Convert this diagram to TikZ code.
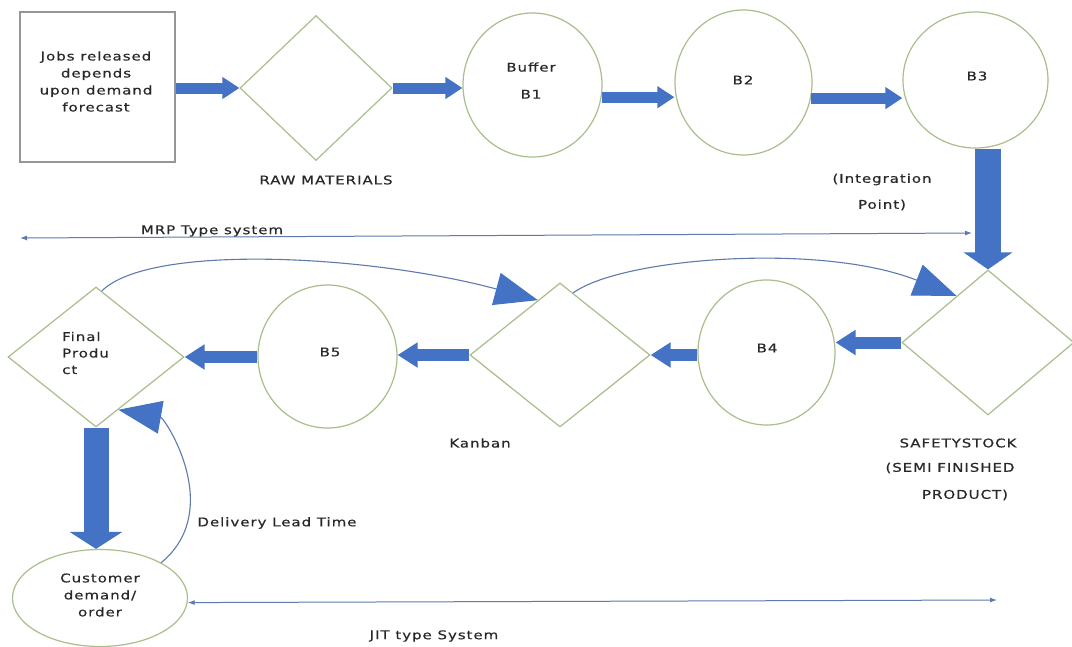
\documentclass[tikz,border=0pt]{standalone}
\usepackage{fontspec}
\newfontfamily\dfont{DejaVu Sans}[LetterSpace=8,FakeStretch=1.25,FakeBold=0.5]
\usetikzlibrary{shapes.geometric,arrows.meta}
\definecolor{bluef}{RGB}{68,114,196}
\definecolor{shapeline}{RGB}{170,190,140}
\definecolor{rectline}{RGB}{150,150,150}
\definecolor{thinline}{RGB}{95,122,172}
\definecolor{textgray}{RGB}{40,40,40}
\begin{document}
\begin{tikzpicture}[x=1pt,y=-1pt,
  txt/.style={font=\dfont\fontsize{12}{17}\selectfont, text=textgray, inner sep=0pt},
  rbox/.style={draw=rectline, line width=1.1pt, rectangle, inner sep=0pt},
  dia/.style={draw=shapeline, line width=1.2pt, diamond, inner sep=0pt},
  ell/.style={draw=shapeline, line width=1.2pt, ellipse, inner sep=0pt},
  blkA/.style={draw=bluef, line width=11pt, -{Triangle[length=17pt,width=21pt]}},
  blkB/.style={draw=bluef, line width=26pt, -{Triangle[length=17pt,width=48pt]}},
  blkC/.style={draw=bluef, line width=12pt, -{Triangle[length=20pt,width=24pt]}},
  blkD/.style={draw=bluef, line width=25pt, -{Triangle[length=17pt,width=52pt]}},
  crv/.style={draw=thinline, line width=1.1pt, -{Triangle[length=43pt,width=33pt,color=bluef]}},
  thinarr/.style={draw=thinline, line width=1pt, {Latex[length=7pt,width=5pt]}-{Latex[length=7pt,width=5pt]}}
]
\fill[white] (0,0) rectangle (1072,646);
\useasboundingbox (0,0) rectangle (1072,646);

% top row
\node[rbox, minimum width=155pt, minimum height=150pt] (jobs) at (97.5,87) {};
\node[txt, align=center] (jobsT) at (96,81.5) {Jobs released\\depends\\upon demand\\forecast};
\node[dia, minimum width=152pt, minimum height=145pt] (raw) at (316,88) {};
\node[txt] (rawT) at (326,180) {RAW MATERIALS};
\node[ell, minimum width=139pt, minimum height=144pt] (b1) at (532.5,85) {};
\node[txt, align=center, font=\dfont\fontsize{12}{27}\selectfont] (b1T) at (531,80.5) {Buffer\\B1};
\node[ell, minimum width=137pt, minimum height=145pt] (b2) at (743.5,82.5) {};
\node[txt] (b2T) at (743,80) {B2};
\node[ell, minimum width=145pt, minimum height=136pt] (b3) at (975.5,80) {};
\node[txt] (b3T) at (977,76) {B3};
\node[txt, align=center, font=\dfont\fontsize{12}{26}\selectfont] (intT) at (882,192) {(Integration\\Point)};

% bottom row
\node[dia, minimum width=172pt, minimum height=145pt] (ss) at (988,342.5) {};
\node[txt] (ssT1) at (958,443) {SAFETYSTOCK};
\node[txt] (ssT2) at (950,468) {(SEMI FINISHED};
\node[txt] (ssT3) at (965,495) {PRODUCT)};
\node[ell, minimum width=137pt, minimum height=145pt] (b4) at (766.5,352.5) {};
\node[txt] (b4T) at (767,348) {B4};
\node[dia, minimum width=180pt, minimum height=144pt] (kb) at (560,355) {};
\node[txt] (kbT) at (480,443) {Kanban};
\node[ell, minimum width=139pt, minimum height=143pt] (b5) at (327.5,356.5) {};
\node[txt] (b5T) at (330,352) {B5};
\node[dia, minimum width=176pt, minimum height=140pt] (fp) at (96,357) {};
\node[txt, align=left, anchor=west, font=\dfont\fontsize{12}{16.5}\selectfont] (fpT) at (62,353) {Final\\Produ\\ct};
\node[ell, minimum width=175pt, minimum height=97pt] (cu) at (100,598) {};
\node[txt, align=center] (cuT) at (100,595) {Customer\\demand/\\order};

\node[txt] (dlT) at (277,523) {Delivery Lead Time};
\node[txt] (jitT) at (434,636) {JIT type System};
\node[txt] (mrpT) at (212,231) {MRP Type system};

\coordinate (mrpL) at (20,238);
\coordinate (mrpR) at (972,233);
\coordinate (jitR) at (997,600);

% block arrows
\draw[blkA] (jobs.east |- raw.west) -- (raw.west);
\draw[blkA] (raw.east) -- (raw.east -| b1.west);
\draw[blkA] (b1.-10.5) -- (b1.-10.5 -| b2.west);
\draw[blkA] (b2.-13.9) -- (b2.-13.9 -| b3.west);
\draw[blkB] (ss.north |- b3.south) -- (ss.north);
\draw[blkC] (ss.west) -- (ss.west -| b4.east);
\draw[blkC] (kb.east -| b4.west) -- (kb.east);
\draw[blkC] (kb.west) -- (kb.west -| b5.east);
\draw[blkC] (fp.east -| b5.west) -- (fp.east);
\draw[blkD] (fp.south) -- (fp.south |- cu.north);

% curved arrows
\draw[crv] (fp.85) .. controls (150,243) and (370,255) .. (kb.112);
\draw[crv] (kb.78) .. controls (620,258) and (820,242) .. (ss.124);
\draw[crv] (cu.30) .. controls (225,510) and (165,418) .. (fp.-67);

% system lines
\draw[thinarr] (mrpL) -- (mrpR);
\draw[thinarr] (cu.-3) -- (jitR);
\end{tikzpicture}
\end{document}
